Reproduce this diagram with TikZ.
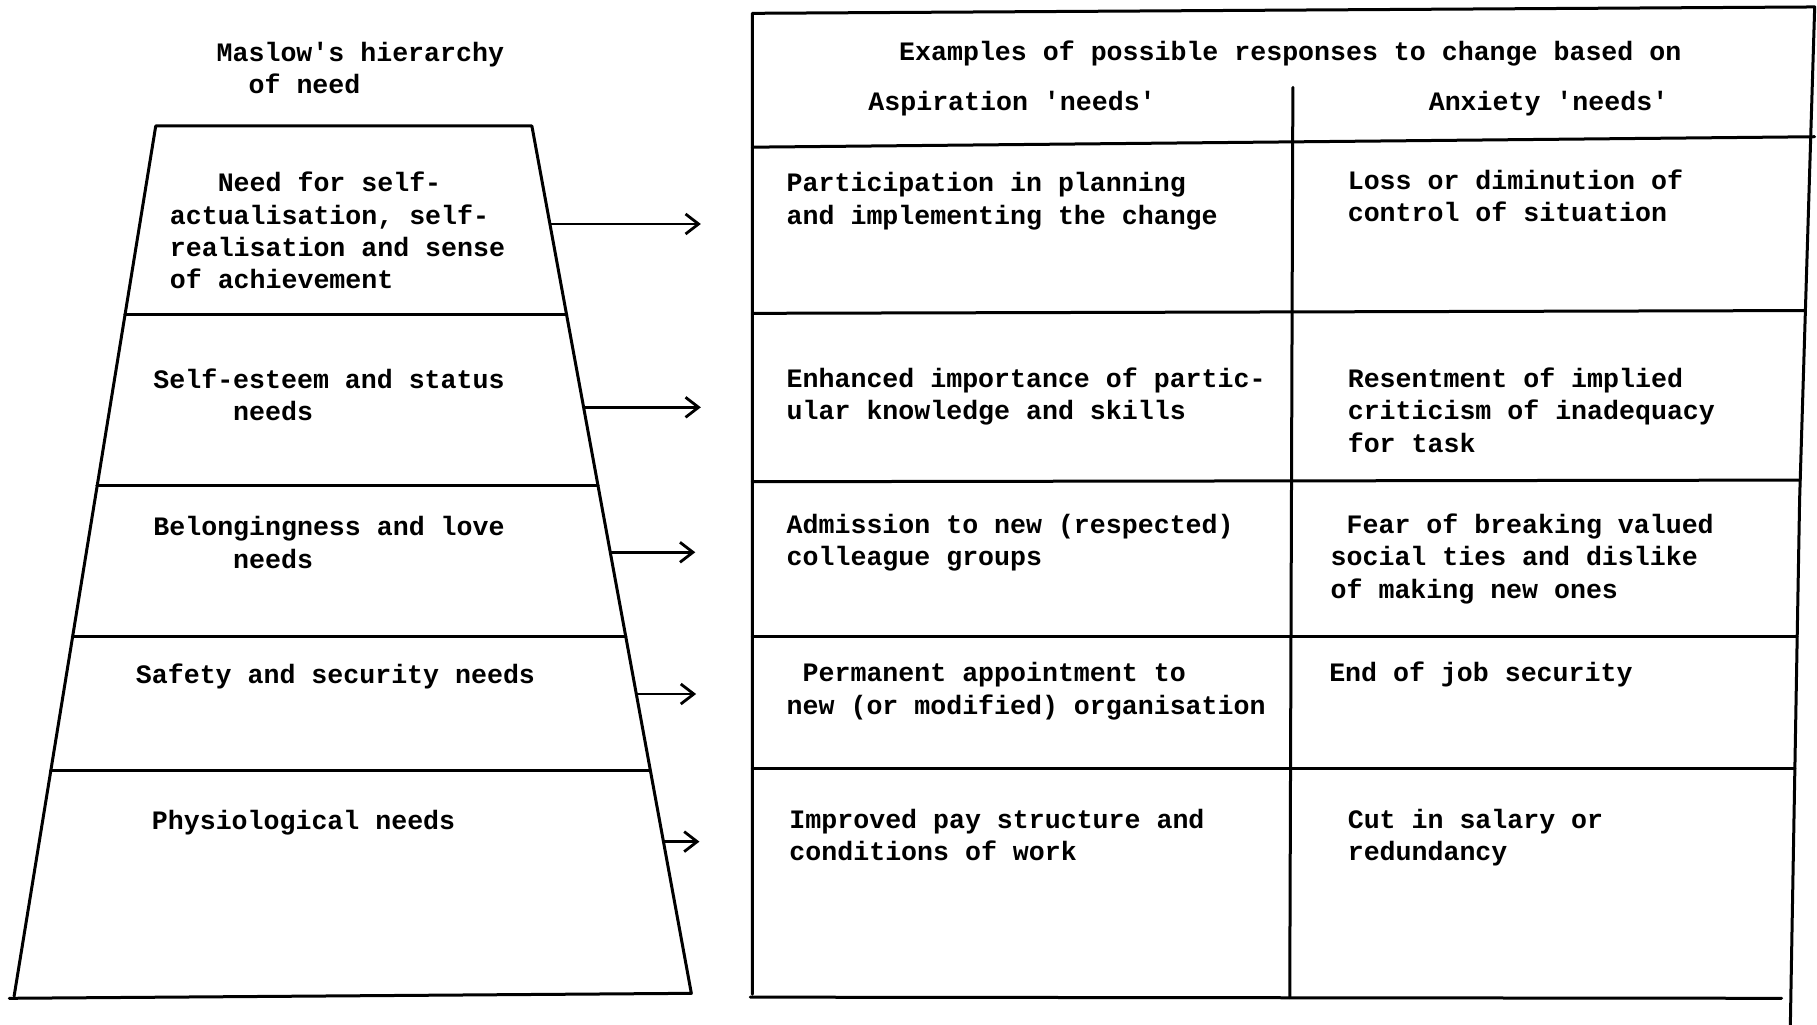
\documentclass[tikz,border=0pt]{standalone}
\usepackage{fontspec}
\setmonofont{Liberation Mono}
\usetikzlibrary{arrows.meta}
\begin{document}
\begin{tikzpicture}[x=0.5794pt,y=-0.5794pt,
  ln/.style={line width=1.5pt, line cap=round, line join=round},
  arr/.style={line width=1.4pt, -{Straight Barb[length=6.5pt,width=10pt,line width=1.4pt]}},
  txt/.style={anchor=north west, inner sep=0pt, outer sep=0pt, align=left,
    font=\fontsize{13.3}{16.17}\selectfont\ttfamily\bfseries}]
\useasboundingbox (0,0) rectangle (1568,884.5);

% ---------- Maslow pyramid ----------
\node[txt] (ttl) at (187,33.5) {\strut Maslow's hierarchy\\\hphantom{xx}of need};

\draw[ln] (8,861.5) -- (596.6,857.2) -- (459,108.7) -- (134.4,108.7) -- (12.2,859.5);
\draw[ln] (107.8,271.8) -- (489.0,271.8);
\draw[ln] (83.7,419.1) -- (516.1,419.1);
\draw[ln] (62.5,549.4) -- (540.0,549.4);
\draw[ln] (43.7,664.5) -- (561.2,664.5);

\node[txt] (lvl1) at (146.6,145.9) {\strut\hphantom{xxx}Need for self-\\actualisation, self-\\realisation and sense\\of achievement};
\node[txt] (lvl2) at (132.4,315.6) {\strut Self-esteem and status\\\hphantom{xxxxx}needs};
\node[txt] (lvl3) at (132.4,442.8) {\strut Belongingness and love\\\hphantom{xxxxx}needs};
\node[txt] (lvl4) at (117.3,570.2) {\strut Safety and security needs};
\node[txt] (lvl5) at (131.1,696.2) {\strut Physiological needs};

% ---------- arrows ----------
\coordinate (s1) at (474.6,193.3); \coordinate (e1) at (604.8,193.3);
\coordinate (s2) at (503.6,351.5); \coordinate (e2) at (604.8,351.5);
\coordinate (s3) at (526.6,476.6); \coordinate (e3) at (600.0,476.6);
\coordinate (s4) at (549.1,598.9); \coordinate (e4) at (600.7,598.9);
\coordinate (s5) at (572.5,726.3); \coordinate (e5) at (603.6,726.3);
\draw[arr] (s1) -- (e1);
\draw[arr] (s2) -- (e2);
\draw[arr] (s3) -- (e3);
\draw[arr] (s4) -- (e4);
\draw[arr] (s5) -- (e5);

% ---------- table ----------
\draw[ln] (649.3,858) -- (649.3,11.5) -- (1566,6) -- (1553,431) -- (1545,884.5);
\draw[ln] (649.3,127) -- (1566,118);
\draw[ln] (649.3,270.4) -- (1558,268);
\draw[ln] (649.3,415.7) -- (1553.5,414.3);
\draw[ln] (649.3,549.4) -- (1550.9,549.4);
\draw[ln] (649.3,663) -- (1548.9,663);
\draw[ln] (647.5,860.5) -- (1537.5,861.5);
\draw[ln] (1115.7,75.4) -- (1113,860.8);

\node[txt] (hdr) at (776,32.3) {\strut Examples of possible responses to change based on};
\node[txt] (asp) at (749.4,75.5) {\strut Aspiration 'needs'};
\node[txt] (anx) at (1233,75.5) {\strut Anxiety 'needs'};

\node[txt] (a1) at (678.9,145.9) {\strut Participation in planning\\and implementing the change};
\node[txt] (x1) at (1163.1,143.9) {\strut Loss or diminution of\\control of situation};

\node[txt] (a2) at (678.9,314.8) {\strut Enhanced importance of partic-\\ular knowledge and skills};
\node[txt] (x2) at (1163.1,314.8) {\strut Resentment of implied\\criticism of inadequacy\\for task};

\node[txt] (a3) at (678.9,440.8) {\strut Admission to new (respected)\\colleague groups};
\node[txt] (x3) at (1148.3,440.8) {\strut\hphantom{x}Fear of breaking valued\\social ties and dislike\\of making new ones};

\node[txt] (a4) at (678.9,568.8) {\strut\hphantom{x}Permanent appointment to\\new (or modified) organisation};
\node[txt] (x4) at (1147.1,568.8) {\strut End of job security};

\node[txt] (a5) at (681.3,695.3) {\strut Improved pay structure and\\conditions of work};
\node[txt] (x5) at (1163.1,695.3) {\strut Cut in salary or\\redundancy};
\end{tikzpicture}
\end{document}
